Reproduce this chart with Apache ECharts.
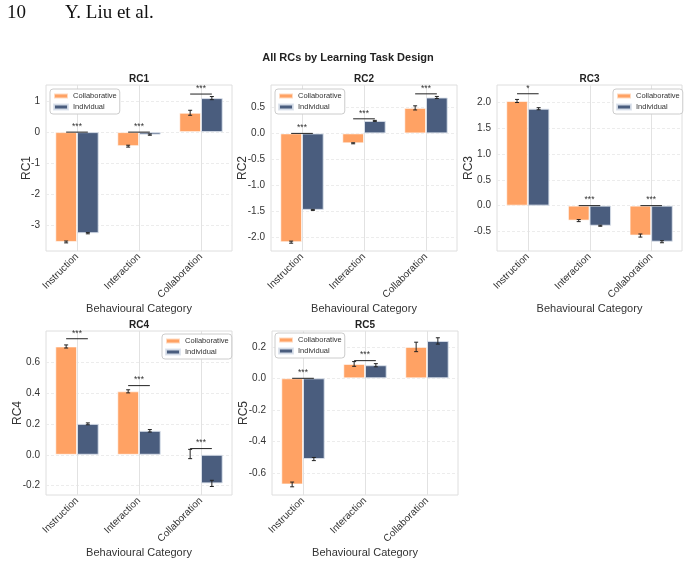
<!DOCTYPE html>
<html>
<head>
<meta charset="utf-8">
<script src="https://cdn.jsdelivr.net/npm/echarts@6/dist/echarts.min.js"></script>
<style>
html, body { margin: 0; padding: 0; background: #fff; }
#main { width: 690px; height: 575px; }
</style>
</head>
<body>
<div id="main"></div>
<script>
// data
var categories = ['Instruction', 'Interaction', 'Collaboration'];
var groups = ['Collaborative', 'Individual'];
var panelNames = ['RC1', 'RC2', 'RC3', 'RC4', 'RC5'];

var rc1Collab = [-3.52, -0.45, 0.62];
var rc1CollabErr = [0.03, 0.03, 0.08];
var rc1Indiv = [-3.24, -0.08, 1.09];
var rc1IndivErr = [0.02, 0.02, 0.05];
var rc1Sig = ['***', '***', '***'];
var rc1SigY = [0, 0, 1.22];
var rc1Ticks = [-3, -2, -1, 0, 1];
var rc1Range = [-3.81, 1.51];

var rc2Collab = [-2.09, -0.19, 0.49];
var rc2CollabErr = [0.02, 0.01, 0.04];
var rc2Indiv = [-1.47, 0.24, 0.69];
var rc2IndivErr = [0.01, 0.01, 0.02];
var rc2Sig = ['***', '***', '***'];
var rc2SigY = [0, 0.28, 0.76];
var rc2Ticks = [-2.0, -1.5, -1.0, -0.5, 0.0, 0.5];
var rc2Range = [-2.26, 0.93];

var rc3Collab = [2.03, -0.29, -0.58];
var rc3CollabErr = [0.03, 0.02, 0.03];
var rc3Indiv = [1.88, -0.39, -0.70];
var rc3IndivErr = [0.02, 0.01, 0.02];
var rc3Sig = ['*', '***', '***'];
var rc3SigY = [2.17, 0, 0];
var rc3Ticks = [-0.5, 0.0, 0.5, 1.0, 1.5, 2.0];
var rc3Range = [-0.88, 2.34];

var rc4Collab = [0.70, 0.41, 0.005];
var rc4CollabErr = [0.01, 0.01, 0.03];
var rc4Indiv = [0.20, 0.155, -0.185];
var rc4IndivErr = [0.006, 0.008, 0.02];
var rc4Sig = ['***', '***', '***'];
var rc4SigY = [0.75, 0.447, 0.04];
var rc4Ticks = [-0.2, 0.0, 0.2, 0.4, 0.6];
var rc4Range = [-0.26, 0.80];

var rc5Collab = [-0.673, 0.091, 0.199];
var rc5CollabErr = [0.015, 0.015, 0.03];
var rc5Indiv = [-0.512, 0.083, 0.237];
var rc5IndivErr = [0.01, 0.01, 0.02];
var rc5Sig = ['***', '***', ''];
var rc5SigY = [0, 0.112, null];
var rc5Ticks = [-0.6, -0.4, -0.2, 0.0, 0.2];
var rc5Range = [-0.74, 0.30];

var panels = [
  { collab: rc1Collab, collabErr: rc1CollabErr, indiv: rc1Indiv, indivErr: rc1IndivErr, sig: rc1Sig, sigY: rc1SigY, ticks: rc1Ticks, range: rc1Range, dec: 0 },
  { collab: rc2Collab, collabErr: rc2CollabErr, indiv: rc2Indiv, indivErr: rc2IndivErr, sig: rc2Sig, sigY: rc2SigY, ticks: rc2Ticks, range: rc2Range, dec: 1 },
  { collab: rc3Collab, collabErr: rc3CollabErr, indiv: rc3Indiv, indivErr: rc3IndivErr, sig: rc3Sig, sigY: rc3SigY, ticks: rc3Ticks, range: rc3Range, dec: 1 },
  { collab: rc4Collab, collabErr: rc4CollabErr, indiv: rc4Indiv, indivErr: rc4IndivErr, sig: rc4Sig, sigY: rc4SigY, ticks: rc4Ticks, range: rc4Range, dec: 1 },
  { collab: rc5Collab, collabErr: rc5CollabErr, indiv: rc5Indiv, indivErr: rc5IndivErr, sig: rc5Sig, sigY: rc5SigY, ticks: rc5Ticks, range: rc5Range, dec: 1 }
];

// layout
var boxes = [
  { left: 46, top: 85, width: 186, height: 166, nameGap: 19, legendLeft: 50, legendTop: 89 },
  { left: 271, top: 85, width: 186, height: 166, nameGap: 28, legendLeft: 275, legendTop: 89 },
  { left: 497, top: 85, width: 185, height: 166, nameGap: 28, legendLeft: 613, legendTop: 89 },
  { left: 46, top: 331, width: 186, height: 164, nameGap: 28, legendLeft: 162, legendTop: 334 },
  { left: 272, top: 331, width: 186, height: 164, nameGap: 28, legendLeft: 275, legendTop: 333 }
];

var FONT = 'Liberation Sans, Arial, sans-serif';
var SERIF = 'Liberation Serif, DejaVu Serif, serif';
var ORANGE = '#ffa264';
var NAVY = '#4a5d7e';
var HALF = 0.175; // half bar width in category units

function errRender(params, api) {
  var cat = api.value(0), mean = api.value(1), err = api.value(2), side = api.value(3);
  var band = api.size([1, 0])[0];
  var hi = api.coord([cat, mean + err]);
  var lo = api.coord([cat, mean - err]);
  var x = hi[0] + side * band * HALF;
  var st = { stroke: '#222', lineWidth: 1 };
  return {
    type: 'group',
    children: [
      { type: 'line', shape: { x1: x, y1: hi[1], x2: x, y2: lo[1] }, style: st },
      { type: 'line', shape: { x1: x - 2, y1: hi[1], x2: x + 2, y2: hi[1] }, style: st },
      { type: 'line', shape: { x1: x - 2, y1: lo[1], x2: x + 2, y2: lo[1] }, style: st }
    ]
  };
}

function sigRender(labels) {
  return function (params, api) {
    var cat = api.value(0), y = api.value(1);
    var band = api.size([1, 0])[0];
    var c = api.coord([cat, y]);
    var h = band * HALF;
    return {
      type: 'group',
      children: [
        { type: 'line', shape: { x1: c[0] - h, y1: c[1], x2: c[0] + h, y2: c[1] }, style: { stroke: '#222', lineWidth: 1 } },
        { type: 'text', x: c[0], y: c[1] - 1, style: { text: labels[params.dataIndex], fill: '#333', fontSize: 8.5, fontFamily: FONT, align: 'center', verticalAlign: 'bottom' } }
      ]
    };
  };
}

// vertical grid lines through the category centres
function vGridRender(params, api) {
  var c = api.coord([api.value(0), 0]);
  var cs = params.coordSys;
  return {
    type: 'line',
    shape: { x1: Math.round(c[0]) + 0.5, y1: cs.y, x2: Math.round(c[0]) + 0.5, y2: cs.y + cs.height },
    style: { stroke: '#e2e2e2', lineWidth: 1 }
  };
}

var grid = [], xAxis = [], yAxis = [], series = [], legend = [];
var title = [{
  text: 'All RCs by Learning Task Design', left: 348, top: 52, textAlign: 'center', padding: 0,
  textStyle: { fontSize: 11, fontWeight: 'bold', color: '#222', fontFamily: FONT }
}];

panels.forEach(function (p, i) {
  var b = boxes[i];
  grid.push({ left: b.left, top: b.top, width: b.width, height: b.height, show: true, borderColor: '#dedede', borderWidth: 1 });
  title.push({
    text: panelNames[i], left: b.left + b.width / 2, top: b.top - 11, textAlign: 'center', padding: 0,
    textStyle: { fontSize: 10, fontWeight: 'bold', color: '#222', fontFamily: FONT }
  });
  xAxis.push({
    gridIndex: i, type: 'category', data: categories,
    axisLine: { show: false }, axisTick: { show: false },
    axisLabel: { rotate: 45, interval: 0, fontSize: 10, color: '#333', margin: 4, fontFamily: FONT },
    splitLine: { show: false },
    name: 'Behavioural Category', nameLocation: 'middle', nameGap: 52, nameMoveOverlap: false,
    nameTextStyle: { fontSize: 11, color: '#333', fontFamily: FONT }
  });
  yAxis.push({
    gridIndex: i, type: 'value', min: p.range[0], max: p.range[1],
    axisLine: { show: false },
    axisTick: { show: false, customValues: p.ticks },
    axisLabel: {
      customValues: p.ticks, fontSize: 10, color: '#333', margin: 6, fontFamily: FONT,
      formatter: (function (d) { return function (v) { return v.toFixed(d); }; })(p.dec)
    },
    splitLine: { show: true, customValues: p.ticks, lineStyle: { color: '#ececec', width: 1, type: [3, 2] } },
    name: panelNames[i], nameLocation: 'middle', nameGap: b.nameGap, nameMoveOverlap: false,
    nameTextStyle: { fontSize: 12, color: '#333', fontFamily: FONT, verticalAlign: 'middle' }
  });
  series.push({
    type: 'custom', xAxisIndex: i, yAxisIndex: i, data: [[0, 0], [1, 0], [2, 0]],
    renderItem: vGridRender, encode: { x: 0, y: 1 }, z: 0, silent: true
  });
  series.push({
    name: groups[0], type: 'bar', xAxisIndex: i, yAxisIndex: i, data: p.collab,
    barWidth: '35%', barGap: '0%',
    itemStyle: { color: ORANGE, borderColor: 'rgba(255,255,255,0.6)', borderWidth: 1 }
  });
  series.push({
    name: groups[1], type: 'bar', xAxisIndex: i, yAxisIndex: i, data: p.indiv,
    barWidth: '35%', barGap: '0%',
    itemStyle: { color: NAVY, borderColor: 'rgba(220,226,236,0.9)', borderWidth: 1 }
  });
  var errData = [];
  categories.forEach(function (c, k) {
    errData.push([k, p.collab[k], p.collabErr[k], -1]);
    errData.push([k, p.indiv[k], p.indivErr[k], 1]);
  });
  series.push({
    type: 'custom', xAxisIndex: i, yAxisIndex: i, data: errData, renderItem: errRender,
    encode: { x: 0, y: 1 }, z: 5, silent: true
  });
  var sigData = [], sigLabels = [];
  categories.forEach(function (c, k) {
    if (p.sigY[k] === null || !p.sig[k]) return;
    sigData.push([k, p.sigY[k]]);
    sigLabels.push(p.sig[k]);
  });
  series.push({
    type: 'custom', xAxisIndex: i, yAxisIndex: i, data: sigData, renderItem: sigRender(sigLabels),
    encode: { x: 0, y: 1 }, z: 6, silent: true
  });
  legend.push({
    data: groups, orient: 'vertical', left: b.legendLeft, top: b.legendTop,
    icon: 'rect', itemWidth: 14, itemHeight: 5, itemGap: 3,
    padding: [3, 3, 3, 3], borderColor: '#cccccc', borderWidth: 1, borderRadius: 3,
    backgroundColor: '#fff', selectedMode: false,
    textStyle: { fontSize: 7.5, color: '#333', fontFamily: FONT }
  });
});

var chart = echarts.init(document.getElementById('main'), null, { renderer: 'canvas' });
chart.setOption({
  animation: false,
  backgroundColor: '#fff',
  title: title,
  legend: legend,
  grid: grid,
  xAxis: xAxis,
  yAxis: yAxis,
  series: series,
  graphic: [
    { type: 'text', left: 7, top: 4, style: { text: '10', fontSize: 19, fontFamily: SERIF, fill: '#111' } },
    { type: 'text', left: 65, top: 4, style: { text: 'Y. Liu et al.', fontSize: 19, fontFamily: SERIF, fill: '#111' } }
  ]
});
</script>
</body>
</html>
